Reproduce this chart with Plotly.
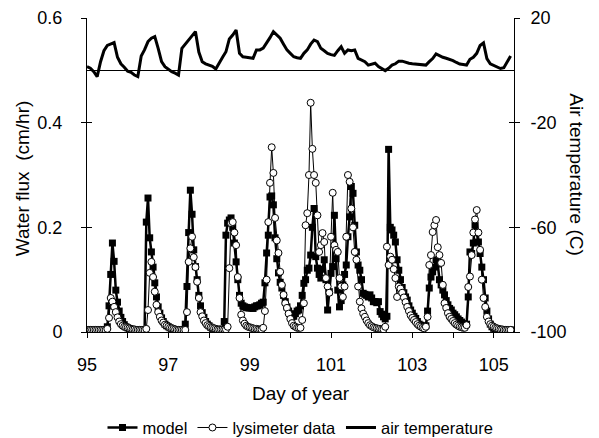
import plotly.graph_objects as go

# ---------------- data ----------------
flux_start_day = 95.0
flux_step_days = 1.0 / 24.0   # hourly
temp_start_day = 95.0
temp_step_days = 1.0 / 12.0   # 2-hourly

model_flux = [
    # day 95
    0.003,0.003,0.003,0.003,0.003,0.003,0.003,0.003,0.003,0.003,0.003,0.003,
    0.010,0.050,0.110,0.170,0.135,0.080,0.057,0.040,0.028,0.020,0.014,0.010,
    # day 96
    0.008,0.006,0.005,0.004,0.004,0.003,0.003,0.003,0.003,0.003,0.004,0.210,
    0.256,0.180,0.153,0.124,0.094,0.067,0.048,0.036,0.027,0.020,0.015,0.012,
    # day 97
    0.010,0.008,0.006,0.005,0.004,0.004,0.003,0.003,0.003,0.004,0.015,0.087,
    0.190,0.271,0.225,0.157,0.125,0.100,0.070,0.050,0.037,0.028,0.020,0.015,
    # day 98
    0.012,0.009,0.007,0.005,0.004,0.004,0.004,0.004,0.005,0.020,0.185,0.208,
    0.214,0.218,0.200,0.170,0.134,0.100,0.070,0.055,0.050,0.048,0.047,0.046,
    # day 99
    0.046,0.046,0.045,0.048,0.050,0.050,0.052,0.055,0.057,0.094,0.151,0.185,
    0.258,0.260,0.243,0.180,0.140,0.113,0.095,0.084,0.070,0.058,0.048,0.040,
    # day 100
    0.032,0.029,0.030,0.035,0.040,0.042,0.050,0.070,0.093,0.100,0.118,0.122,
    0.147,0.200,0.236,0.144,0.122,0.110,0.103,0.120,0.138,0.100,0.042,0.077,
    # day 101
    0.112,0.125,0.223,0.140,0.080,0.048,0.060,0.090,0.110,0.128,0.182,0.220,
    0.278,0.265,0.204,0.153,0.128,0.118,0.100,0.074,0.072,0.070,0.067,0.071,
    # day 102
    0.065,0.058,0.058,0.056,0.058,0.039,0.034,0.029,0.025,0.030,0.349,0.200,
    0.195,0.185,0.172,0.138,0.118,0.100,0.085,0.075,0.067,0.061,0.050,0.042,
    # day 103
    0.036,0.030,0.026,0.020,0.015,0.013,0.011,0.010,0.012,0.040,0.084,0.105,
    0.115,0.124,0.138,0.130,0.100,0.090,0.080,0.071,0.060,0.052,0.045,0.042,
    # day 104
    0.036,0.033,0.029,0.025,0.022,0.019,0.016,0.014,0.015,0.067,0.153,0.150,
    0.170,0.204,0.190,0.172,0.150,0.124,0.100,0.065,0.040,0.025,0.015,0.010,
    # day 105
    0.007,0.005,0.004,0.004,0.004,0.004,0.004,0.004,0.004,0.004,0.004,
]

lysimeter_flux = [
    # day 95
    0.004,0.004,0.004,0.004,0.004,0.004,0.004,0.004,0.004,0.004,0.004,0.004,
    0.006,0.027,0.065,0.058,0.048,0.038,0.028,0.020,0.015,0.012,0.010,0.009,
    # day 96
    0.008,0.007,0.006,0.005,0.005,0.004,0.004,0.004,0.004,0.004,0.004,0.006,
    0.042,0.113,0.134,0.105,0.077,0.052,0.038,0.029,0.022,0.018,0.014,0.012,
    # day 97
    0.010,0.008,0.007,0.006,0.005,0.004,0.004,0.004,0.004,0.004,0.004,0.038,
    0.134,0.160,0.182,0.143,0.124,0.096,0.065,0.038,0.030,0.022,0.017,0.013,
    # day 98
    0.011,0.009,0.008,0.007,0.006,0.005,0.005,0.005,0.005,0.005,0.005,0.010,
    0.122,0.208,0.210,0.190,0.166,0.105,0.065,0.033,0.022,0.016,0.012,0.010,
    # day 99
    0.009,0.008,0.007,0.006,0.006,0.005,0.005,0.005,0.008,0.040,0.100,0.210,
    0.285,0.353,0.304,0.218,0.175,0.151,0.115,0.090,0.071,0.055,0.046,0.035,
    # day 100
    0.025,0.017,0.012,0.010,0.008,0.008,0.008,0.023,0.055,0.204,0.227,0.300,
    0.438,0.350,0.300,0.285,0.223,0.153,0.166,0.189,0.172,0.103,0.087,0.075,
    # day 101
    0.182,0.266,0.166,0.157,0.153,0.103,0.087,0.067,0.087,0.182,0.300,0.287,
    0.236,0.200,0.153,0.138,0.087,0.058,0.045,0.035,0.029,0.022,0.017,0.013,
    # day 102
    0.011,0.009,0.008,0.007,0.006,0.006,0.005,0.005,0.010,0.163,0.128,0.144,
    0.138,0.120,0.103,0.067,0.087,0.083,0.075,0.066,0.057,0.048,0.040,0.032,
    # day 103
    0.027,0.023,0.019,0.015,0.012,0.010,0.008,0.007,0.010,0.029,0.128,0.147,
    0.191,0.204,0.214,0.162,0.147,0.132,0.090,0.055,0.046,0.036,0.029,0.025,
    # day 104
    0.021,0.017,0.014,0.012,0.010,0.009,0.008,0.008,0.013,0.086,0.106,0.147,
    0.190,0.215,0.233,0.190,0.157,0.100,0.065,0.048,0.029,0.020,0.015,0.012,
    # day 105
    0.010,0.008,0.007,0.006,0.005,0.005,0.004,0.004,0.004,0.004,0.004,
]

air_temperature = [
    # day 95
    1.4, 0.8, -0.5, -2.4, 3.3, 7.5, 9.5, 10.1, 10.6, 5.0, 2.5, 1.2,
    # day 96
    -0.3, -0.8, -1.8, -2.4, 5.5, 7.9, 11.0, 12.3, 12.9, 8.4, 3.3, 1.4,
    # day 97
    0.3, -0.5, -1.1, -1.8, 8.4, 10.0, 11.5, 13.0, 14.8, 7.0, 3.3, 2.5,
    # day 98
    2.0, 1.5, 0.5, 2.5, 5.0, 7.1, 12.0, 13.5, 15.4, 6.5, 5.2, 5.0,
    # day 99
    4.8, 4.6, 7.8, 7.8, 8.5, 10.3, 12.5, 14.8, 13.5, 12.3, 10.0, 7.8,
    # day 100
    6.5, 5.2, 4.8, 4.6, 6.5, 7.8, 10.0, 11.6, 11.0, 8.4, 7.5, 6.5,
    # day 101
    6.0, 5.7, 7.5, 9.0, 6.5, 7.8, 7.5, 7.8, 4.6, 3.8, 3.3, 2.0,
    # day 102
    2.5, 2.7, 1.4, 0.5, -0.1, 0.8, 2.0, 2.5, 3.5, 3.5, 3.0, 2.7,
    # day 103
    2.5, 2.4, 2.2, 2.1, 2.0, 3.3, 4.5, 6.3, 5.5, 5.0, 4.6, 4.2,
    # day 104
    3.7, 3.0, 2.4, 2.2, 2.0, 4.2, 5.0, 6.5, 9.5, 10.5, 4.5, 2.5,
    # day 105
    1.8, 1.3, 0.7, 1.0, 3.0, 5.5,
]

x_tick_values = [95, 96, 97, 98, 99, 100, 101, 102, 103, 104, 105]
x_tick_labels = ["95", "", "97", "", "99", "", "101", "", "103", "", "105"]
flux_tick_values = [0, 0.2, 0.4, 0.6]
flux_tick_labels = ["0", "0.2", "0.4", "0.6"]
temp_tick_values = [-100, -60, -20, 20]
temp_tick_labels = ["-100", "-60", "-20", "20"]

flux_days = [flux_start_day + i * flux_step_days for i in range(len(model_flux))]
temp_days = [temp_start_day + i * temp_step_days for i in range(len(air_temperature))]

FONT = "Liberation Sans, Arial, sans-serif"
TICK_SIZE = 18

fig = go.Figure()
fig.add_trace(go.Scatter(
    x=flux_days, y=model_flux, name="model", mode="lines+markers",
    line=dict(color="black", width=2.5),
    marker=dict(symbol="square", size=7, color="black", line=dict(width=0)),
    yaxis="y",
))
fig.add_trace(go.Scatter(
    x=flux_days, y=lysimeter_flux, name="lysimeter data", mode="lines+markers",
    line=dict(color="black", width=1),
    marker=dict(symbol="circle", size=7, color="white", line=dict(color="black", width=1)),
    yaxis="y",
))
fig.add_trace(go.Scatter(
    x=temp_days, y=air_temperature, name="air temperature", mode="lines",
    line=dict(color="black", width=3),
    yaxis="y2",
))
# empty traces so that the inner-tick helper axes are drawn
fig.add_trace(go.Scatter(x=[], y=[], yaxis="y3", showlegend=False, hoverinfo="skip"))
fig.add_trace(go.Scatter(x=[], y=[], yaxis="y4", showlegend=False, hoverinfo="skip"))

axis_common = dict(showgrid=False, linecolor="black", linewidth=1,
                   tickcolor="black", tickwidth=1,
                   tickfont=dict(family=FONT, size=TICK_SIZE, color="black"))

fig.update_layout(
    width=599, height=438,
    margin=dict(l=87, r=85, t=18, b=106, autoexpand=False),
    paper_bgcolor="white", plot_bgcolor="white",
    font=dict(family=FONT, color="black"),
    showlegend=True,
    legend=dict(orientation="h", x=0.5, xanchor="center", y=-0.305, yanchor="middle",
                font=dict(family=FONT, size=16.5, color="black"),
                itemwidth=30, tracegroupgap=0, bgcolor="rgba(0,0,0,0)"),
    xaxis=dict(range=[95, 105.5], tickmode="array", tickvals=x_tick_values,
               ticktext=x_tick_labels, ticks="outside", ticklen=5,
               ticklabelstandoff=11,
               showline=True, zeroline=False, **axis_common),
    yaxis=dict(range=[0, 0.6], tickmode="array", tickvals=flux_tick_values,
               ticktext=flux_tick_labels, ticks="outside", ticklen=5,
               ticklabelstandoff=15,
               showline=True, zeroline=False, **axis_common),
    yaxis2=dict(range=[-100, 20], overlaying="y", side="right", anchor="x",
                tickmode="array", tickvals=temp_tick_values, ticktext=temp_tick_labels,
                ticks="outside", ticklen=5, ticklabelstandoff=7, showline=True,
                zeroline=True, zerolinecolor="black", zerolinewidth=1, **axis_common),
    yaxis3=dict(range=[0, 0.6], overlaying="y", side="left", anchor="x",
                tickmode="array", tickvals=flux_tick_values, ticks="inside", ticklen=5,
                showticklabels=False, showline=False, zeroline=False, showgrid=False,
                tickcolor="black"),
    yaxis4=dict(range=[-100, 20], overlaying="y", side="right", anchor="x",
                tickmode="array", tickvals=temp_tick_values, ticks="inside", ticklen=5,
                showticklabels=False, showline=False, zeroline=False, showgrid=False,
                tickcolor="black"),
    annotations=[
        dict(text="Day of year", xref="paper", yref="paper", x=0.5, y=-0.197,
             xanchor="center", yanchor="middle", showarrow=False,
             font=dict(family=FONT, size=19, color="black")),
        dict(text="Water flux \u00a0(cm/hr)", xref="paper", yref="paper", x=-0.152, y=0.49,
             xanchor="center", yanchor="middle", showarrow=False, textangle=-90,
             font=dict(family=FONT, size=19, color="black")),
        dict(text="Air temperature (C)", xref="paper", yref="paper", x=1.147, y=0.5,
             xanchor="center", yanchor="middle", showarrow=False, textangle=90,
             font=dict(family=FONT, size=19, color="black")),
    ],
)

fig.write_html("out.html",
               config={"displayModeBar": False},
               post_script="document.body.style.margin='0';document.body.style.padding='0';")
